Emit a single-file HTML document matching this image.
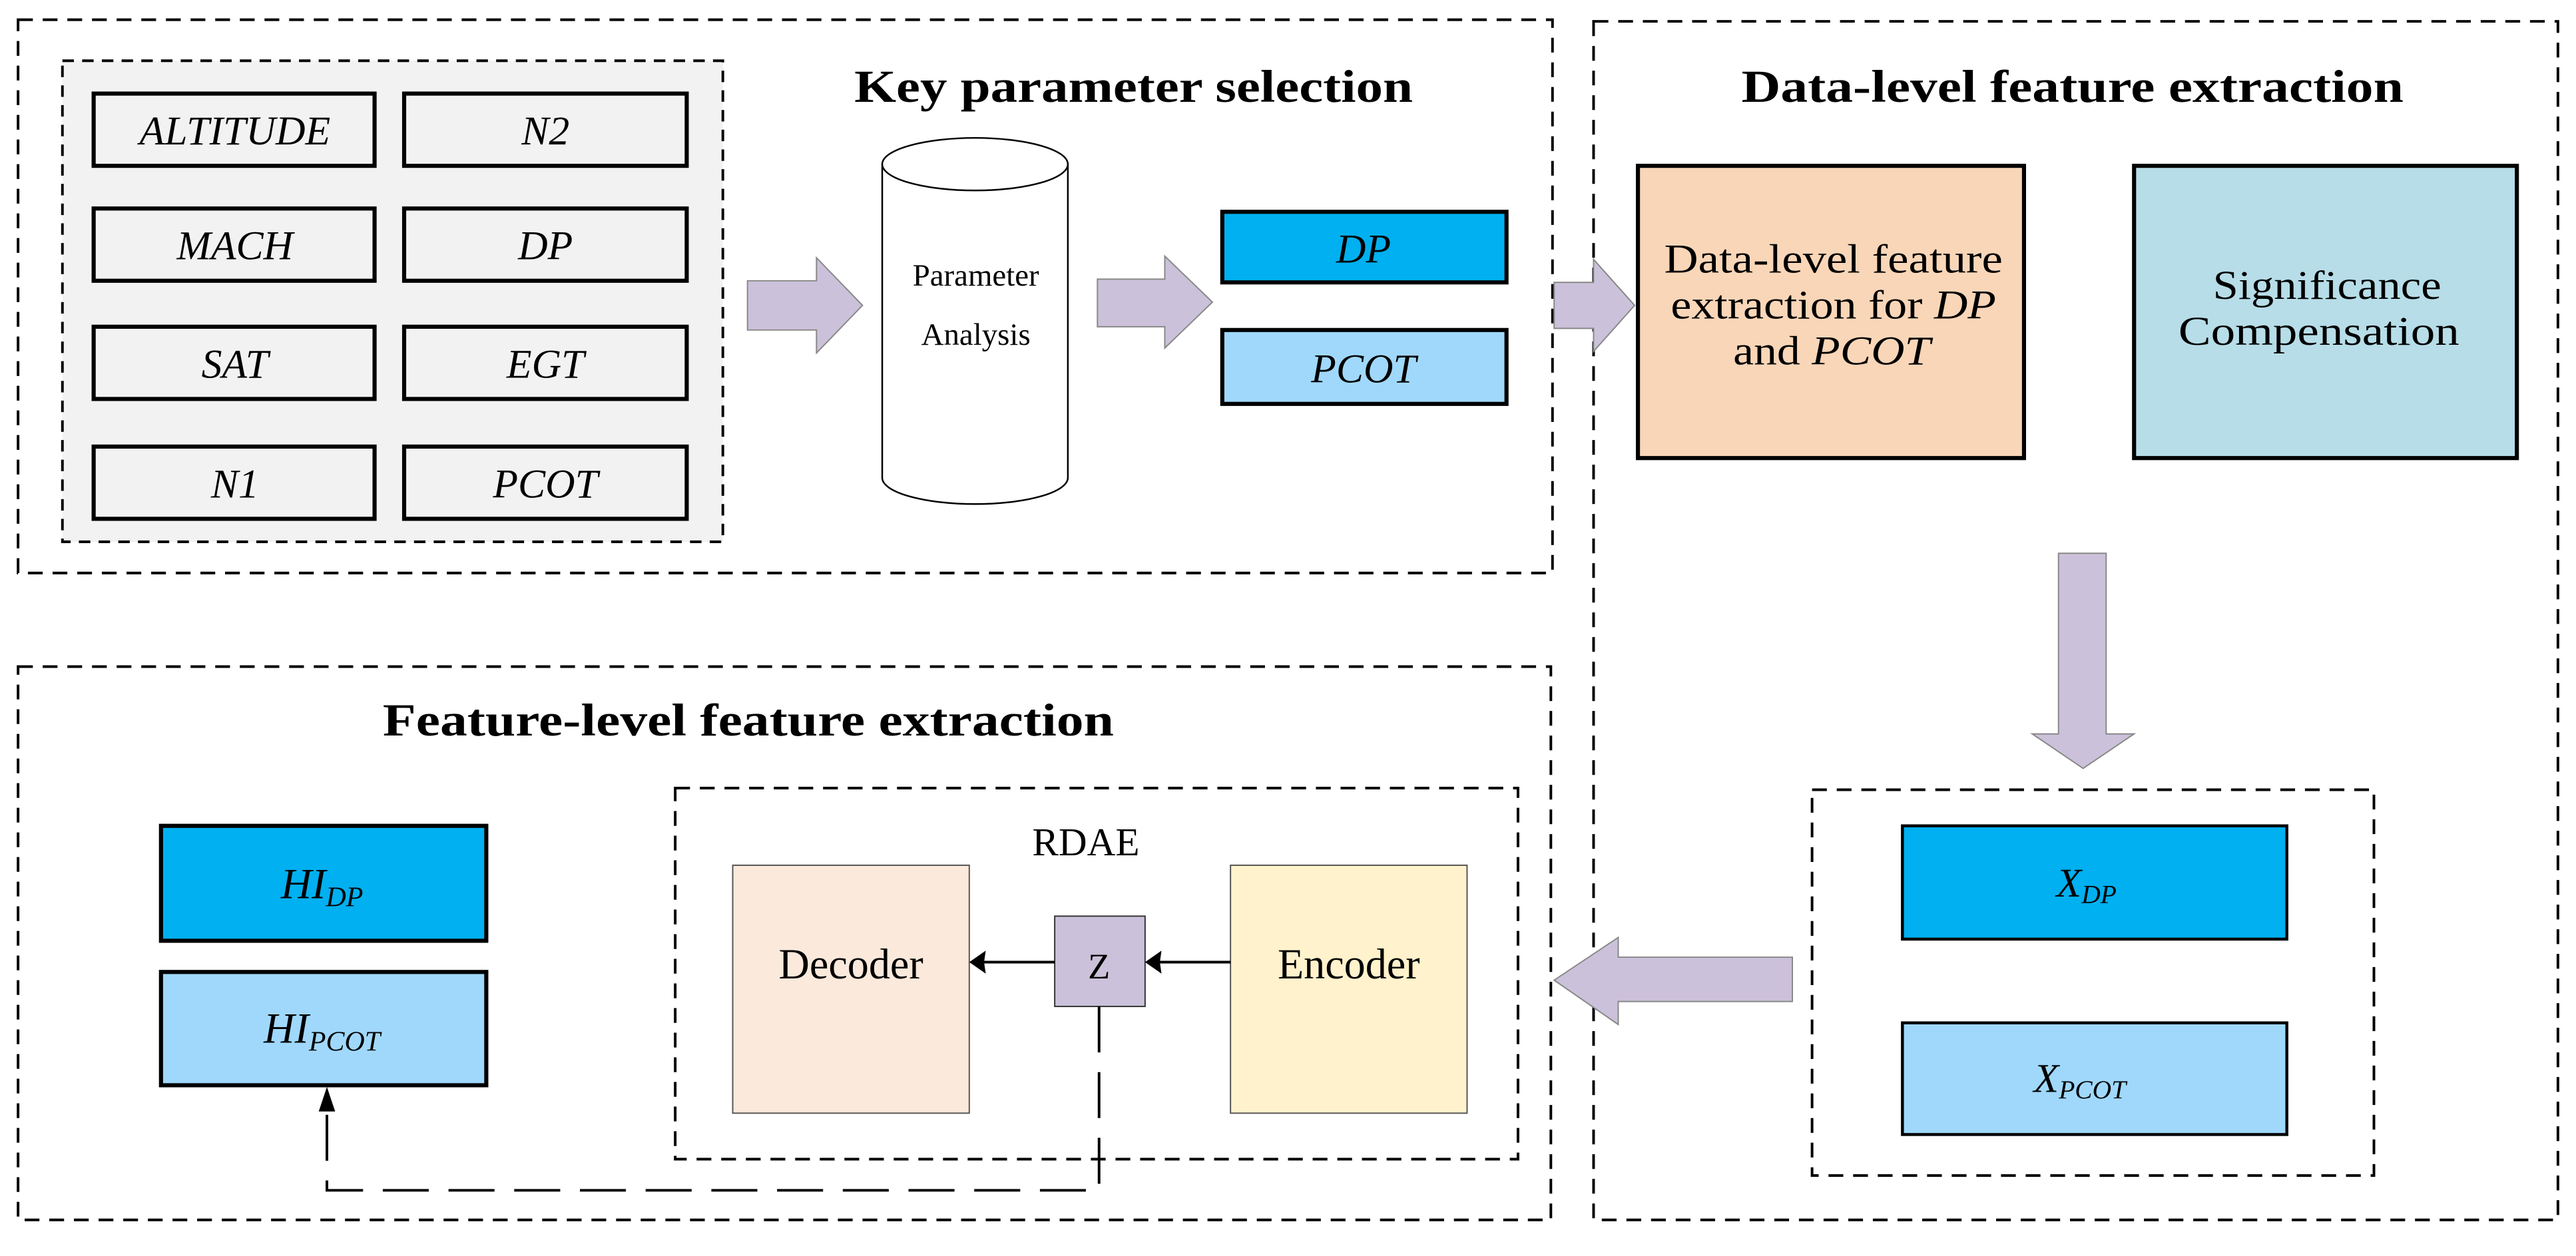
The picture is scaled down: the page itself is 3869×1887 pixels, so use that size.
<!DOCTYPE html>
<html><head><meta charset="utf-8"><style>html,body{margin:0;padding:0;background:#fff}svg{display:block}svg text{font-family:"Liberation Serif",serif}</style></head>
<body>
<svg width="3869" height="1887" viewBox="0 0 1568 765" preserveAspectRatio="none" xmlns="http://www.w3.org/2000/svg">
<g fill="none" stroke="#000" stroke-width="1.6" stroke-dasharray="9,6">
<rect x="11" y="12" width="934" height="337"/>
<rect x="970" y="13" width="587" height="730"/>
<rect x="11" y="406" width="933" height="337"/>
<rect x="1103" y="481" width="342" height="235"/>
<rect x="411" y="480" width="513" height="226"/>
</g>
<rect x="38" y="37" width="402" height="293" fill="#f2f2f2" stroke="#000" stroke-width="1.6" stroke-dasharray="7,5"/>
<g fill="#f2f2f2" stroke="#000" stroke-width="2.5">
<rect x="57" y="57" width="171" height="44"/><rect x="246" y="57" width="172" height="44"/>
<rect x="57" y="127" width="171" height="44"/><rect x="246" y="127" width="172" height="44"/>
<rect x="57" y="199" width="171" height="44"/><rect x="246" y="199" width="172" height="44"/>
<rect x="57" y="272" width="171" height="44"/><rect x="246" y="272" width="172" height="44"/>
</g>
<g font-style="italic" font-size="25" text-anchor="middle">
<text x="143" y="88">ALTITUDE</text><text x="332" y="88">N2</text>
<text x="143" y="158">MACH</text><text x="332" y="158">DP</text>
<text x="143" y="230">SAT</text><text x="332" y="230">EGT</text>
<text x="143" y="303">N1</text><text x="332" y="303">PCOT</text>
</g>
<text x="520" y="62" font-size="28" font-weight="bold" textLength="340" lengthAdjust="spacingAndGlyphs">Key parameter selection</text>
<text x="1060" y="62" font-size="28" font-weight="bold" textLength="403" lengthAdjust="spacingAndGlyphs">Data-level feature extraction</text>
<text x="233" y="448" font-size="28" font-weight="bold" textLength="445" lengthAdjust="spacingAndGlyphs">Feature-level feature extraction</text>
<path d="M537,100 L537,291 A56.5,16 0 0 0 650,291 L650,100" fill="#fff" stroke="#000" stroke-width="1"/>
<ellipse cx="593.5" cy="100" rx="56.5" ry="16" fill="#fff" stroke="#000" stroke-width="1"/>
<text x="594" y="174" font-size="19" text-anchor="middle">Parameter</text>
<text x="594" y="210" font-size="19" text-anchor="middle">Analysis</text>
<g fill="#ccc1da" stroke="#888" stroke-width="0.8">
<path d="M455,171 L497,171 L497,157 L525,186 L497,215 L497,201 L455,201Z"/>
<path d="M668,170 L709,170 L709,156 L738,184 L709,212 L709,199 L668,199Z"/>
<path d="M946,172 L970,172 L970,158 L995,186 L970,214 L970,200 L946,200Z"/>
<path d="M1253,337 L1282,337 L1282,447 L1299,447 L1268,468 L1237,447 L1253,447Z"/>
<path d="M1091,583 L985,583 L985,571 L946,597 L985,624 L985,610 L1091,610Z"/>
</g>
<rect x="744" y="129" width="173" height="43" fill="#00b0f0" stroke="#000" stroke-width="2.5"/>
<rect x="744" y="201" width="173" height="45" fill="#a0d8fc" stroke="#000" stroke-width="2.5"/>
<g font-style="italic" font-size="25" text-anchor="middle"><text x="830" y="160">DP</text><text x="830" y="233">PCOT</text></g>
<rect x="997" y="101" width="235" height="178" fill="#f9d6b8" stroke="#000" stroke-width="2.5"/>
<rect x="1299" y="101" width="233" height="178" fill="#b7dde8" stroke="#000" stroke-width="2.5"/>
<g font-size="25">
<text x="1013" y="166" textLength="206" lengthAdjust="spacingAndGlyphs">Data-level feature</text>
<text x="1017" y="194" textLength="198" lengthAdjust="spacingAndGlyphs">extraction for <tspan font-style="italic">DP</tspan></text>
<text x="1055" y="222" textLength="120" lengthAdjust="spacingAndGlyphs">and <tspan font-style="italic">PCOT</tspan></text>
<text x="1347" y="182" textLength="139" lengthAdjust="spacingAndGlyphs">Significance</text>
<text x="1326" y="210" textLength="171" lengthAdjust="spacingAndGlyphs">Compensation</text>
</g>
<rect x="1158" y="503" width="234" height="69" fill="#00b0f0" stroke="#000" stroke-width="1.8"/>
<rect x="1158" y="623" width="234" height="68" fill="#a0d8fc" stroke="#000" stroke-width="1.8"/>
<text x="1270" y="546" font-size="25" font-style="italic" text-anchor="middle">X<tspan font-size="16" dy="4">DP</tspan></text>
<text x="1266" y="665" font-size="25" font-style="italic" text-anchor="middle">X<tspan font-size="16" dy="4">PCOT</tspan></text>
<rect x="98" y="503" width="198" height="70" fill="#00b0f0" stroke="#000" stroke-width="2.5"/>
<rect x="98" y="592" width="198" height="69" fill="#a0d8fc" stroke="#000" stroke-width="2.5"/>
<text x="196" y="547" font-size="26" font-style="italic" text-anchor="middle">HI<tspan font-size="17" dy="5">DP</tspan></text>
<text x="196" y="635" font-size="26" font-style="italic" text-anchor="middle">HI<tspan font-size="17" dy="5">PCOT</tspan></text>
<text x="661" y="521" font-size="24" text-anchor="middle">RDAE</text>
<rect x="446" y="527" width="144" height="151" fill="#fbe9db" stroke="#555" stroke-width="0.8"/>
<rect x="749" y="527" width="144" height="151" fill="#fff2cc" stroke="#555" stroke-width="0.8"/>
<rect x="642" y="558" width="55" height="55" fill="#ccc1da" stroke="#333" stroke-width="0.8"/>
<g font-size="26" text-anchor="middle"><text x="518" y="596">Decoder</text><text x="821" y="596">Encoder</text><text x="669" y="596" font-size="22">Z</text></g>
<g stroke="#000" stroke-width="1.6">
<line x1="749" y1="586" x2="705" y2="586"/><line x1="642" y1="586" x2="598" y2="586"/>
</g>
<path d="M697,586 L707,579 L706,586 L707,593Z M590,586 L600,579 L599,586 L600,593Z" fill="#000"/>
<path d="M669,613 L669,725 L199,725 L199,675" fill="none" stroke="#000" stroke-width="1.6" stroke-dasharray="28,12"/>
<path d="M199,662 L194,677 L204,677Z" fill="#000"/>
</svg>
</body></html>
